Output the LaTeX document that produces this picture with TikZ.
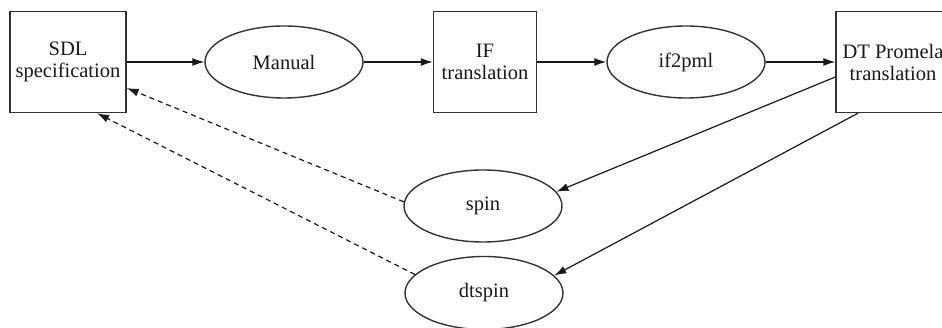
\documentclass[tikz,border=0pt]{standalone}
\usepackage{fontspec}
\setmainfont{Liberation Serif}[Ligatures=TeX]
\newfontfamily\labelfont{Liberation Serif}
\usetikzlibrary{shapes.geometric,arrows.meta}
\begin{document}
\begin{tikzpicture}[x=1pt,y=1pt,
  every node/.style={font=\labelfont\fontsize{20.5}{22}\selectfont, text=black!90, align=center, inner sep=0pt},
  procbox/.style={draw=black!80, line width=1.4pt, rectangle, minimum height=101pt},
  toolnode/.style={draw=black!80, line width=1.4pt, ellipse, minimum width=158pt, minimum height=72pt},
  flow/.style={draw=black!90, line width=1.2pt, -{Latex[length=12pt,width=8pt]}},
  feedback/.style={flow, dash pattern=on 5pt off 4pt}]
  \useasboundingbox (0,0) rectangle (942,328);
  \clip (0,0) rectangle (942,328);

  % top row of the tool chain
  \node[procbox, minimum width=116pt] (sdl) at (68,266) {SDL\\specification};
  \node[toolnode] (manual) at (284,266) {Manual};
  \node[procbox, minimum width=103pt] (if) at (485,266) {IF\\translation};
  \node[toolnode] (ifpml) at (686,266) {if2pml};
  \node[procbox, minimum width=114pt] (dt) at (893,266) {DT Promela\\translation};

  % model checkers
  \node[toolnode] (spin) at (483,122) {spin};
  \node[toolnode, minimum height=73pt] (dtspin) at (484,35) {dtspin};

  % forward flow
  \draw[flow] (sdl) -- (manual);
  \draw[flow] (manual) -- (if);
  \draw[flow] (if) -- (ifpml);
  \draw[flow] (ifpml) -- (dt);
  \draw[flow] ([yshift=-15pt]dt.west) -- (spin.11);
  \draw[flow] ([xshift=-35pt]dt.south) -- (dtspin.14);

  % results fed back to the specification
  \draw[feedback] (spin.177) -- ([yshift=-26pt]sdl.east);
  \draw[feedback] (dtspin.165) -- ([xshift=29pt]sdl.south);
\end{tikzpicture}
\end{document}
